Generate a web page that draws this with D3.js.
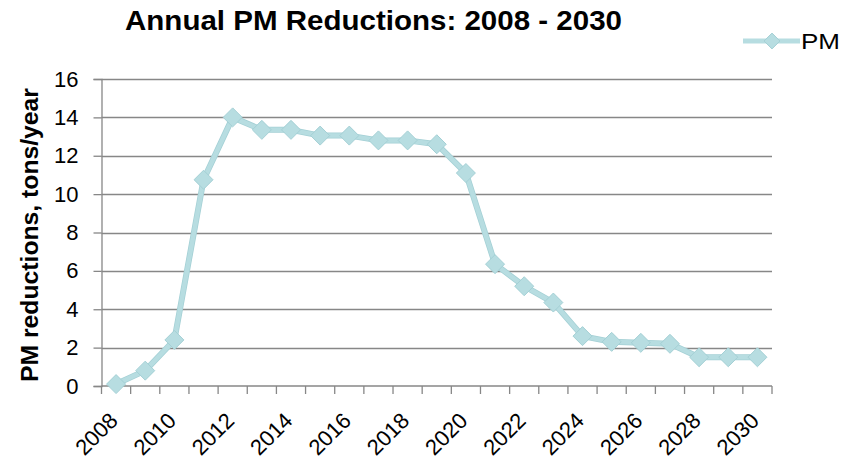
<!DOCTYPE html>
<html>
<head>
<meta charset="utf-8">
<script src="https://cdn.jsdelivr.net/npm/d3@7"></script>
<style>
  body { margin: 0; background: #fff; }
  text { font-family: "Liberation Sans", Arial, sans-serif; fill: #000; }
</style>
</head>
<body>
<div id="chart"></div>
<script>
// data
var years = ["2008","2009","2010","2011","2012","2013","2014","2015","2016","2017","2018","2019",
             "2020","2021","2022","2023","2024","2025","2026","2027","2028","2029","2030"];
var pmValues = [0.1, 0.8, 2.4, 10.75, 14.0, 13.35, 13.35, 13.05, 13.05, 12.8, 12.8, 12.6,
                11.1, 6.35, 5.2, 4.35, 2.6, 2.3, 2.25, 2.2, 1.5, 1.5, 1.5];
var yTicks = [0, 2, 4, 6, 8, 10, 12, 14, 16];
var seriesName = "PM";

var width = 850, height = 461;
var margin = {top: 79, right: 78, bottom: 75, left: 101.5};
var lineColor = "#b7dde1";
var edgeColor = "#a4d0d5";
var gridColor = "#878787";

var svg = d3.select("#chart").append("svg")
    .attr("width", width)
    .attr("height", height);

var x = d3.scaleBand()
    .domain(years)
    .range([margin.left, width - margin.right]);

var y = d3.scaleLinear()
    .domain([0, 16])
    .range([height - margin.bottom, margin.top]);

// gridlines
svg.append("g")
  .selectAll("line")
  .data(yTicks.filter(function(d){ return d > 0; }))
  .enter().append("line")
    .attr("x1", margin.left)
    .attr("x2", width - margin.right)
    .attr("y1", function(d){ return Math.round(y(d)) + 0.5; })
    .attr("y2", function(d){ return Math.round(y(d)) + 0.5; })
    .attr("stroke", gridColor)
    .attr("stroke-width", 1.3);

// y axis
var yAxis = svg.append("g")
    .attr("transform", "translate(" + margin.left + ",0)")
    .call(d3.axisLeft(y).tickValues(yTicks).tickSize(8).tickPadding(15));
yAxis.select(".domain").attr("stroke", gridColor).attr("stroke-width", 1.3);
yAxis.selectAll(".tick line").attr("stroke", gridColor).attr("stroke-width", 1.3);
yAxis.selectAll(".tick text")
    .style("font-size", "22px")
    .attr("fill", "#000");

// x axis: ticks at category boundaries
var xBase = height - margin.bottom;
var bounds = years.map(function(d){ return x(d); }).concat([x(years[years.length-1]) + x.bandwidth()]);
var xg = svg.append("g");
xg.append("line")
    .attr("x1", margin.left).attr("x2", width - margin.right)
    .attr("y1", xBase).attr("y2", xBase)
    .attr("stroke", gridColor).attr("stroke-width", 1.3);
xg.selectAll("line.tk")
  .data(bounds)
  .enter().append("line")
    .attr("class", "tk")
    .attr("x1", function(d){ return d; })
    .attr("x2", function(d){ return d; })
    .attr("y1", xBase).attr("y2", xBase + 8)
    .attr("stroke", gridColor).attr("stroke-width", 1.3);

xg.selectAll("text")
  .data(years.filter(function(d, i){ return i % 2 === 0; }))
  .enter().append("text")
    .attr("transform", function(d){
      return "translate(" + (x(d) + x.bandwidth() / 2 + 3) + "," + (xBase + 36) + ") rotate(-45)";
    })
    .attr("text-anchor", "end")
    .style("font-size", "22px")
    .text(function(d){ return d; });

// line + markers
var pts = years.map(function(d, i){ return {year: d, value: pmValues[i]}; });
var line = d3.line()
    .x(function(d){ return x(d.year) + x.bandwidth() / 2; })
    .y(function(d){ return y(d.value); });

svg.append("path")
    .datum(pts)
    .attr("d", line)
    .attr("fill", "none")
    .attr("stroke", edgeColor)
    .attr("stroke-width", 6)
    .attr("stroke-linejoin", "round");
svg.append("path")
    .datum(pts)
    .attr("d", line)
    .attr("fill", "none")
    .attr("stroke", lineColor)
    .attr("stroke-width", 4.5)
    .attr("stroke-linejoin", "round");

var diamond = d3.symbol().type(d3.symbolDiamond2).size(230);
svg.append("g")
  .selectAll("path")
  .data(pts)
  .enter().append("path")
    .attr("transform", function(d){
      return "translate(" + (x(d.year) + x.bandwidth() / 2) + "," + y(d.value) + ")";
    })
    .attr("d", diamond)
    .attr("fill", lineColor)
    .attr("stroke", edgeColor)
    .attr("stroke-width", 1);

// title
svg.append("text")
    .attr("x", 125)
    .attr("y", 30)
    .attr("textLength", 497)
    .attr("lengthAdjust", "spacingAndGlyphs")
    .style("font-size", "28px")
    .style("font-weight", "bold")
    .text("Annual PM Reductions: 2008 - 2030");

// y label
svg.append("text")
    .attr("transform", "translate(38,235) rotate(-90)")
    .attr("text-anchor", "middle")
    .attr("textLength", 294)
    .attr("lengthAdjust", "spacingAndGlyphs")
    .style("font-size", "23px")
    .style("font-weight", "bold")
    .text("PM reductions, tons/year");

// legend
var lg = svg.append("g").attr("transform", "translate(743,41)");
lg.append("line")
    .attr("x1", 0).attr("x2", 57)
    .attr("y1", 0).attr("y2", 0)
    .attr("stroke", lineColor).attr("stroke-width", 5);
lg.append("path")
    .attr("transform", "translate(29,0)")
    .attr("d", d3.symbol().type(d3.symbolDiamond2).size(160))
    .attr("fill", lineColor)
    .attr("stroke", edgeColor);
lg.append("text")
    .attr("x", 58)
    .attr("y", 8)
    .attr("textLength", 39)
    .attr("lengthAdjust", "spacingAndGlyphs")
    .style("font-size", "22px")
    .text(seriesName);
</script>
</body>
</html>
